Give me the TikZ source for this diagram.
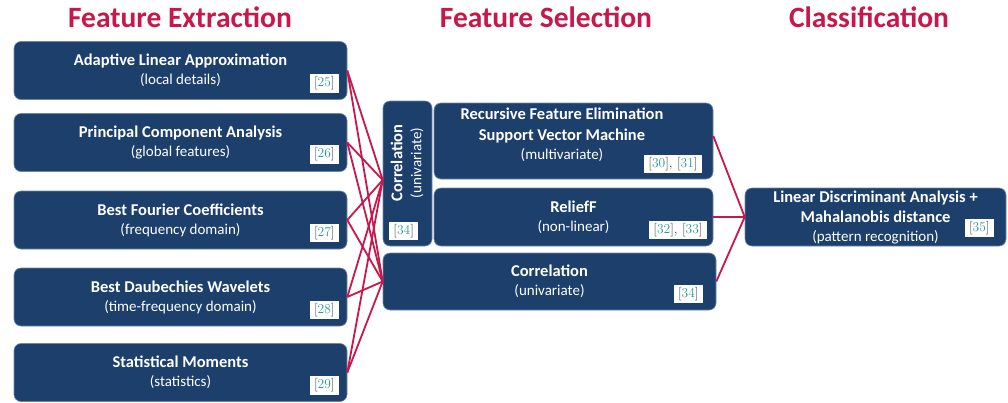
\documentclass[tikz,border=0pt]{standalone}
\usepackage{fontspec}
\setsansfont{Carlito}
\usepackage{xcolor}
\definecolor{boxblue}{HTML}{1C3F6C}
\definecolor{boxedge}{HTML}{6F88A6}
\definecolor{linkred}{HTML}{C8174A}
\definecolor{citeteal}{HTML}{2E9696}

\newcommand{\refno}[1]{[\textcolor{citeteal}{#1}]}
\newcommand{\boxhead}[1]{{\bfseries\fontsize{16.5}{19}\selectfont #1}}

\begin{document}
\begin{tikzpicture}[x=1pt, y=-1pt,
  blockbox/.style={draw=boxedge, line width=0.6pt, fill=boxblue, rounded corners=7pt, inner sep=0pt,
    text=white, align=center, font=\sffamily\fontsize{15}{19}\selectfont},
  boxtext/.style={text=white, align=center, inner sep=0pt, font=\sffamily\fontsize{15}{19}\selectfont},
  reflabel/.style={fill=white, inner xsep=4.5pt, inner ysep=2.5pt, text=black!75,
    font=\rmfamily\fontsize{13.5}{13.5}\selectfont},
  headline/.style={text=linkred, anchor=base, font=\sffamily\bfseries\fontsize{29.5}{29.5}\selectfont},
  link/.style={draw=linkred, line width=1.8pt}]
  \useasboundingbox (0,0) rectangle (1008,402);

  % column titles
  \node[headline] (fextitle) at (180,27) {Feature Extraction};
  \node[headline] (fseltitle) at (546,27) {Feature Selection};
  \node[headline] (clstitle) at (869,27) {Classification};

  % feature extraction
  \node[blockbox, minimum width=333pt, minimum height=58pt] (ala) at (180.5,70.5) {\boxhead{Adaptive Linear Approximation}\\(local details)};
  \node[blockbox, minimum width=333pt, minimum height=58pt] (pca) at (180.5,142.5) {\boxhead{Principal Component Analysis}\\(global features)};
  \node[blockbox, minimum width=333pt, minimum height=58pt] (bfc) at (180.5,220) {\boxhead{Best Fourier Coefficients}\\(frequency domain)};
  \node[blockbox, minimum width=333pt, minimum height=58pt] (bdw) at (180.5,297) {\boxhead{Best Daubechies Wavelets}\\(time-frequency domain)};
  \node[blockbox, minimum width=333pt, minimum height=58pt] (stm) at (180.5,372.5) {\boxhead{Statistical Moments}\\(statistics)};
  \node[reflabel, anchor=south east] (alaref) at ([xshift=-8pt,yshift=7pt]ala.south east) {\refno{25}};
  \node[reflabel, anchor=south east] (pcaref) at ([xshift=-8pt,yshift=8pt]pca.south east) {\refno{26}};
  \node[reflabel, anchor=south east] (bfcref) at ([xshift=-8pt,yshift=7pt]bfc.south east) {\refno{27}};
  \node[reflabel, anchor=south east] (bdwref) at ([xshift=-8pt,yshift=7pt]bdw.south east) {\refno{28}};
  \node[reflabel, anchor=south east] (stmref) at ([xshift=-8pt,yshift=7pt]stm.south east) {\refno{29}};

  % feature selection
  \node[blockbox, minimum width=49pt, minimum height=145pt] (corrv) at (407.5,173.5) {};
  \node[boxtext, rotate=90] (corrvtext) at (407,163) {\boxhead{Correlation}\\(univariate)};
  \node[reflabel, anchor=south west] (corrvref) at ([xshift=6pt,yshift=6pt]corrv.south west) {\refno{34}};
  \node[blockbox, minimum width=279pt, minimum height=76pt] (rfe) at (573.5,141) {};
  \node[boxtext] (rfetext) at (562,135) {\boxhead{Recursive Feature Elimination}\\[2pt]\boxhead{Support Vector Machine}\\(multivariate)};
  \node[reflabel, anchor=south east] (rferef) at ([xshift=-11pt,yshift=6pt]rfe.south east) {\refno{30}, \refno{31}};
  \node[blockbox, minimum width=279pt, minimum height=58pt] (relief) at (573.5,217) {\boxhead{ReliefF}\\(non-linear)};
  \node[reflabel, anchor=south east] (reliefref) at ([xshift=-6pt,yshift=7pt]relief.south east) {\refno{32}, \refno{33}};
  \node[blockbox, minimum width=333pt, minimum height=57pt] (corrh) at (549.5,281.5) {\boxhead{Correlation}\\(univariate)};
  \node[reflabel, anchor=south east] (corrhref) at ([xshift=-13pt,yshift=7pt]corrh.south east) {\refno{34}};

  % classification
  \node[blockbox, minimum width=261pt, minimum height=58pt] (lda) at (875.5,217) {\boxhead{Linear Discriminant Analysis +}\\[1pt]\boxhead{Mahalanobis distance}\\(pattern recognition)};
  \node[reflabel, anchor=south east] (ldaref) at ([xshift=-12pt,yshift=9pt]lda.south east) {\refno{35}};

  % connectors
  \coordinate (corrvin) at ([yshift=-6.5pt]corrv.west);
  \coordinate (rfeout) at ([yshift=5pt]rfe.east);
  \foreach \src in {ala,pca,bfc,bdw,stm} {
    \draw[link] (\src.east) -- (corrvin);
    \draw[link] (\src.east) -- (corrh.west);
  }
  \draw[link] (rfeout) -- (lda.west);
  \draw[link] (relief.east) -- (lda.west);
  \draw[link] (corrh.east) -- (lda.west);
\end{tikzpicture}
\end{document}
